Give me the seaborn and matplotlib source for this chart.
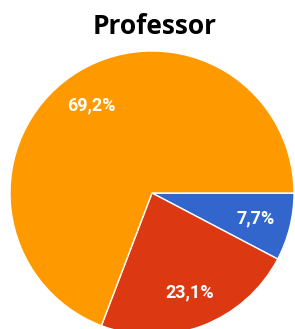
import matplotlib
matplotlib.use('Agg')
import matplotlib.pyplot as plt
import seaborn as sns

sns.set_theme(style='white')

# data
labels = ['Blue', 'Red', 'Orange']
values = [7.7, 23.1, 69.2]
colors = sns.color_palette(['#3366CC', '#DC3912', '#FF9900'])

fig = plt.figure(figsize=(2.95, 3.29), dpi=100)
ax = fig.add_axes([0, 0, 1, 1])
ax.set_xlim(0, 295)
ax.set_ylim(0, 329)
ax.set_aspect('equal')
ax.axis('off')

def fmt(p):
    return '{:.1f}%'.format(p).replace('.', ',')

wedges, texts, autotexts = ax.pie(values, colors=colors, startangle=0, counterclock=False,
                                  center=(152, 136), radius=142, autopct=fmt, pctdistance=0.75,
                                  wedgeprops=dict(edgecolor='white', linewidth=1),
                                  textprops=dict(color='white', fontsize=13, fontweight='bold',
                                                 family='Roboto'))
ax.set_xlim(0, 295)
ax.set_ylim(0, 329)

ax.text(155, 302, 'Professor', ha='center', va='center', fontsize=19, fontweight='bold',
        family='Open Sans', color='black')

fig.savefig('out.png', dpi=100)
